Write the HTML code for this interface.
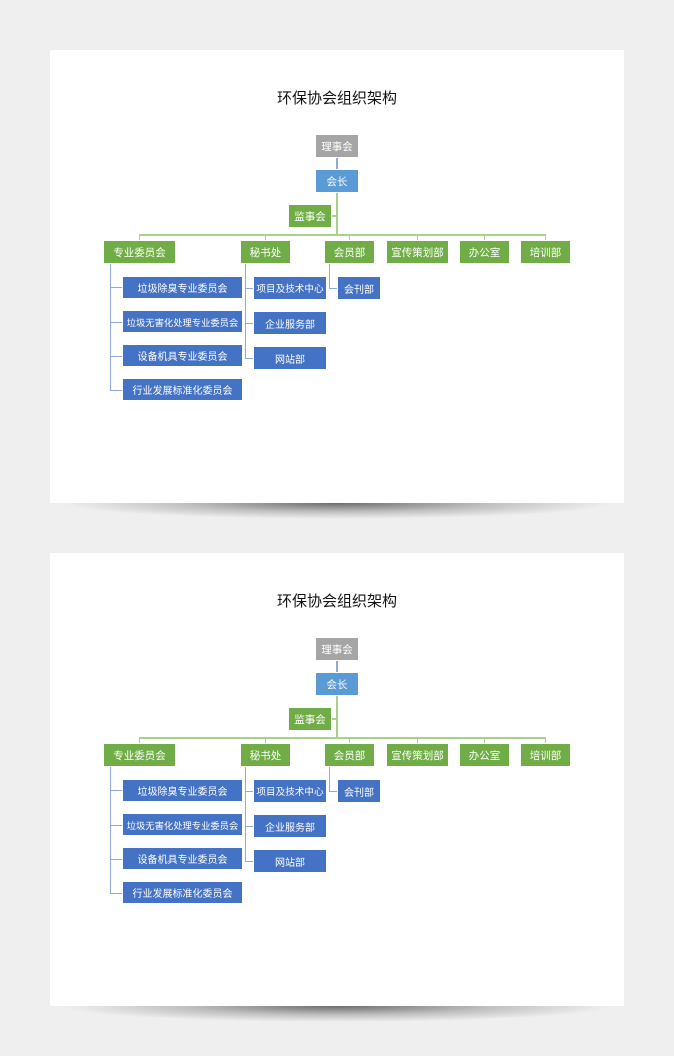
<!DOCTYPE html>
<html><head><meta charset="utf-8"><style>
*{margin:0;padding:0;box-sizing:border-box}
body{width:674px;height:1056px;background:#efefef;position:relative;overflow:hidden;font-family:"Liberation Sans","Noto Sans CJK SC",sans-serif}
.panel{position:absolute;left:50px;width:574px;height:453px;background:#fff}
.sh{position:absolute;left:62px;width:550px;height:16px;background:radial-gradient(ellipse 50% 100% at 50% 0%,rgba(0,0,0,0.55),rgba(0,0,0,0.2) 55%,rgba(0,0,0,0) 100%)}
.g{position:absolute;left:0;top:0;width:674px;height:530px}
.b{position:absolute;color:#fff;font-size:10.5px;display:flex;align-items:center;justify-content:center;border:1px solid #fff;white-space:nowrap}
.gr{background:#70ad47}.bl{background:#4472c4;font-size:10px}
.l{position:absolute;background:#a9d18e}
.lb{position:absolute;background:#8faadc}
.t{position:absolute;left:0;width:674px;text-align:center;font-size:15px;color:#111}
</style></head><body>
<div class="panel" style="top:50px"></div><div class="sh" style="top:503px"></div>
<div class="panel" style="top:553px"></div><div class="sh" style="top:1006px"></div>

<div class="g" style="top:0">
<div class="t" style="top:87px">环保协会组织架构</div>
<div class="lb" style="left:336px;top:157px;width:2px;height:12px"></div>
<div class="l" style="left:336px;top:193px;width:2px;height:42px"></div>
<div class="l" style="left:332px;top:215px;width:5px;height:2px"></div>
<div class="l" style="left:139px;top:234px;width:407px;height:2px"></div>
<div class="l" style="left:139px;top:234px;width:1px;height:6px"></div>
<div class="l" style="left:265px;top:234px;width:1px;height:6px"></div>
<div class="l" style="left:349px;top:234px;width:1px;height:6px"></div>
<div class="l" style="left:417px;top:234px;width:1px;height:6px"></div>
<div class="l" style="left:484px;top:234px;width:1px;height:6px"></div>
<div class="l" style="left:545px;top:234px;width:1px;height:6px"></div>
<div class="b" style="left:315px;top:134px;width:44px;height:24px;background:#a5a5a5">理事会</div>
<div class="b" style="left:315px;top:169px;width:44px;height:24px;background:#5b9bd5">会长</div>
<div class="b gr" style="left:288px;top:204px;width:44px;height:24px">监事会</div>
<div class="b gr" style="left:103px;top:240px;width:73px;height:24px">专业委员会</div>
<div class="b gr" style="left:240px;top:240px;width:51px;height:24px">秘书处</div>
<div class="b gr" style="left:324px;top:240px;width:51px;height:24px">会员部</div>
<div class="b gr" style="left:386px;top:240px;width:63px;height:24px">宣传策划部</div>
<div class="b gr" style="left:459px;top:240px;width:51px;height:24px">办公室</div>
<div class="b gr" style="left:520px;top:240px;width:51px;height:24px">培训部</div>
<div class="lb" style="left:110px;top:264px;width:1px;height:127px"></div>
<div class="lb" style="left:110px;top:287px;width:12px;height:1px"></div>
<div class="lb" style="left:110px;top:322px;width:12px;height:1px"></div>
<div class="lb" style="left:110px;top:356px;width:12px;height:1px"></div>
<div class="lb" style="left:110px;top:390px;width:12px;height:1px"></div>
<div class="lb" style="left:245px;top:264px;width:1px;height:95px"></div>
<div class="lb" style="left:245px;top:288px;width:8px;height:1px"></div>
<div class="lb" style="left:245px;top:323px;width:8px;height:1px"></div>
<div class="lb" style="left:245px;top:358px;width:8px;height:1px"></div>
<div class="lb" style="left:329px;top:264px;width:1px;height:25px"></div>
<div class="lb" style="left:329px;top:288px;width:8px;height:1px"></div>
<div class="b bl" style="left:122px;top:276px;width:121px;height:23px">垃圾除臭专业委员会</div>
<div class="b bl" style="left:122px;top:310px;width:121px;height:23px;font-size:9.3px">垃圾无害化处理专业委员会</div>
<div class="b bl" style="left:122px;top:344px;width:121px;height:23px">设备机具专业委员会</div>
<div class="b bl" style="left:122px;top:378px;width:121px;height:23px">行业发展标准化委员会</div>
<div class="b bl" style="left:253px;top:276px;width:74px;height:24px;font-size:9.6px">项目及技术中心</div>
<div class="b bl" style="left:253px;top:311px;width:74px;height:24px">企业服务部</div>
<div class="b bl" style="left:253px;top:346px;width:74px;height:24px">网站部</div>
<div class="b bl" style="left:337px;top:276px;width:44px;height:24px">会刊部</div>
</div>

<div class="g" style="top:503px">
<div class="t" style="top:87px">环保协会组织架构</div>
<div class="lb" style="left:336px;top:157px;width:2px;height:12px"></div>
<div class="l" style="left:336px;top:193px;width:2px;height:42px"></div>
<div class="l" style="left:332px;top:215px;width:5px;height:2px"></div>
<div class="l" style="left:139px;top:234px;width:407px;height:2px"></div>
<div class="l" style="left:139px;top:234px;width:1px;height:6px"></div>
<div class="l" style="left:265px;top:234px;width:1px;height:6px"></div>
<div class="l" style="left:349px;top:234px;width:1px;height:6px"></div>
<div class="l" style="left:417px;top:234px;width:1px;height:6px"></div>
<div class="l" style="left:484px;top:234px;width:1px;height:6px"></div>
<div class="l" style="left:545px;top:234px;width:1px;height:6px"></div>
<div class="b" style="left:315px;top:134px;width:44px;height:24px;background:#a5a5a5">理事会</div>
<div class="b" style="left:315px;top:169px;width:44px;height:24px;background:#5b9bd5">会长</div>
<div class="b gr" style="left:288px;top:204px;width:44px;height:24px">监事会</div>
<div class="b gr" style="left:103px;top:240px;width:73px;height:24px">专业委员会</div>
<div class="b gr" style="left:240px;top:240px;width:51px;height:24px">秘书处</div>
<div class="b gr" style="left:324px;top:240px;width:51px;height:24px">会员部</div>
<div class="b gr" style="left:386px;top:240px;width:63px;height:24px">宣传策划部</div>
<div class="b gr" style="left:459px;top:240px;width:51px;height:24px">办公室</div>
<div class="b gr" style="left:520px;top:240px;width:51px;height:24px">培训部</div>
<div class="lb" style="left:110px;top:264px;width:1px;height:127px"></div>
<div class="lb" style="left:110px;top:287px;width:12px;height:1px"></div>
<div class="lb" style="left:110px;top:322px;width:12px;height:1px"></div>
<div class="lb" style="left:110px;top:356px;width:12px;height:1px"></div>
<div class="lb" style="left:110px;top:390px;width:12px;height:1px"></div>
<div class="lb" style="left:245px;top:264px;width:1px;height:95px"></div>
<div class="lb" style="left:245px;top:288px;width:8px;height:1px"></div>
<div class="lb" style="left:245px;top:323px;width:8px;height:1px"></div>
<div class="lb" style="left:245px;top:358px;width:8px;height:1px"></div>
<div class="lb" style="left:329px;top:264px;width:1px;height:25px"></div>
<div class="lb" style="left:329px;top:288px;width:8px;height:1px"></div>
<div class="b bl" style="left:122px;top:276px;width:121px;height:23px">垃圾除臭专业委员会</div>
<div class="b bl" style="left:122px;top:310px;width:121px;height:23px;font-size:9.3px">垃圾无害化处理专业委员会</div>
<div class="b bl" style="left:122px;top:344px;width:121px;height:23px">设备机具专业委员会</div>
<div class="b bl" style="left:122px;top:378px;width:121px;height:23px">行业发展标准化委员会</div>
<div class="b bl" style="left:253px;top:276px;width:74px;height:24px;font-size:9.6px">项目及技术中心</div>
<div class="b bl" style="left:253px;top:311px;width:74px;height:24px">企业服务部</div>
<div class="b bl" style="left:253px;top:346px;width:74px;height:24px">网站部</div>
<div class="b bl" style="left:337px;top:276px;width:44px;height:24px">会刊部</div>
</div>
</body></html>
